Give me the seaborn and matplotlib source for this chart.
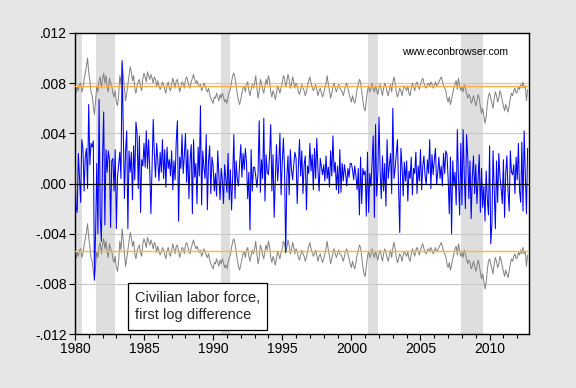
import numpy as np
import pandas as pd
import matplotlib
matplotlib.use("Agg")
import matplotlib.pyplot as plt
import seaborn as sns
from matplotlib.ticker import FixedLocator, FuncFormatter

# civilian labor force, first log difference, monthly Jan 1980 - Oct 2012
clf_dlog = [
    0.0013, -0.0018, -0.0023, 0.0024, 0.0005, -0.0015, 0.0035, 0.0028, -0.0006, 0.0021, 0.0028, -0.0004,  # 1980
    0.0063, 0.0015, 0.0032, 0.0029, 0.0034, -0.0077, -0.0038, 0.0016, -0.0040, 0.0067, -0.0027, -0.0046,  # 1981
    0.0020, 0.0057, -0.0033, 0.0027, 0.0009, 0.0026, 0.0019, -0.0035, 0.0018, 0.0020, -0.0006, 0.0027,  # 1982
    -0.0036, 0.0005, 0.0015, 0.0025, 0.0004, 0.0098, 0.0043, -0.0012, 0.0026, 0.0042, -0.0036, 0.0026,  # 1983
    0.0009, 0.0025, -0.0013, 0.0030, 0.0003, 0.0049, 0.0040, -0.0004, 0.0038, -0.0023, 0.0019, 0.0014,  # 1984
    0.0032, 0.0013, 0.0042, 0.0012, 0.0035, 0.0010, -0.0024, 0.0014, 0.0051, 0.0023, 0.0005, 0.0032,  # 1985
    0.0018, 0.0002, 0.0025, 0.0009, 0.0035, 0.0004, 0.0027, -0.0003, 0.0029, 0.0012, 0.0019, 0.0006,  # 1986
    0.0026, -0.0005, 0.0018, 0.0003, 0.0034, 0.0050, -0.0030, 0.0021, 0.0012, 0.0039, 0.0008, 0.0022,  # 1987
    0.0040, 0.0001, 0.0027, -0.0012, 0.0019, 0.0031, -0.0024, 0.0035, 0.0005, 0.0016, -0.0016, 0.0029,  # 1988
    0.0006, 0.0062, -0.0017, 0.0026, 0.0013, 0.0004, 0.0039, -0.0021, 0.0018, 0.0030, -0.0008, 0.0021,  # 1989
    0.0014, -0.0006, 0.0008, -0.0010, 0.0026, 0.0007, -0.0013, 0.0012, 0.0003, -0.0016, 0.0015, 0.0004,  # 1990
    -0.0007, 0.0024, -0.0013, 0.0011, -0.0021, 0.0006, 0.0039, -0.0012, 0.0018, 0.0003, -0.0002, 0.0016,  # 1991
    0.0031, 0.0005, 0.0024, 0.0011, 0.0028, 0.0016, -0.0012, 0.0009, -0.0037, 0.0027, -0.0006, 0.0013,  # 1992
    0.0013, 0.0006, -0.0003, 0.0008, 0.0050, -0.0007, 0.0019, 0.0004, 0.0052, -0.0014, 0.0023, 0.0009,  # 1993
    0.0007, 0.0022, 0.0047, -0.0006, 0.0023, -0.0027, 0.0004, 0.0031, 0.0002, 0.0016, 0.0040, -0.0009,  # 1994
    0.0017, 0.0036, 0.0011, -0.0055, 0.0005, 0.0022, -0.0009, 0.0027, 0.0011, 0.0003, 0.0015, 0.0025,  # 1995
    0.0020, -0.0016, 0.0014, 0.0035, 0.0006, 0.0026, -0.0008, 0.0015, 0.0022, -0.0021, 0.0014, 0.0008,  # 1996
    0.0032, 0.0010, 0.0023, -0.0005, 0.0028, 0.0004, 0.0036, 0.0011, -0.0006, 0.0020, 0.0013, 0.0007,  # 1997
    0.0015, 0.0002, 0.0022, 0.0004, 0.0013, -0.0003, 0.0026, 0.0006, 0.0038, 0.0009, 0.0017, -0.0005,  # 1998
    0.0014, -0.0008, 0.0027, -0.0007, 0.0016, 0.0002, 0.0015, 0.0008, -0.0002, 0.0012, 0.0005, 0.0016,  # 1999
    0.0016, 0.0011, 0.0003, 0.0014, 0.0006, -0.0005, 0.0012, -0.0025, 0.0021, -0.0016, 0.0012, 0.0007,  # 2000
    0.0010, -0.0026, 0.0025, -0.0023, 0.0008, -0.0002, 0.0017, 0.0038, -0.0027, 0.0047, -0.0010, 0.0009,  # 2001
    0.0053, 0.0009, -0.0012, 0.0022, -0.0006, 0.0016, -0.0018, 0.0035, 0.0004, 0.0015, 0.0024, -0.0008,  # 2002
    0.0060, 0.0004, 0.0012, 0.0023, 0.0035, -0.0004, -0.0039, 0.0028, 0.0014, -0.0010, 0.0017, 0.0002,  # 2003
    0.0018, -0.0014, 0.0010, 0.0004, 0.0021, -0.0009, 0.0012, 0.0008, 0.0025, -0.0008, 0.0014, 0.0002,  # 2004
    0.0027, -0.0005, 0.0014, 0.0022, 0.0006, -0.0001, 0.0019, 0.0008, 0.0035, -0.0004, 0.0023, 0.0007,  # 2005
    0.0019, 0.0028, -0.0001, 0.0009, 0.0021, 0.0004, 0.0014, -0.0002, 0.0024, 0.0008, 0.0026, 0.0023,  # 2006
    0.0004, -0.0024, 0.0021, -0.0040, 0.0018, -0.0002, 0.0009, -0.0017, 0.0043, 0.0003, -0.0025, 0.0032,  # 2007
    -0.0017, 0.0043, 0.0007, -0.0020, 0.0039, 0.0022, -0.0012, 0.0018, -0.0028, 0.0006, 0.0022, -0.0008,  # 2008
    0.0015, -0.0016, 0.0003, 0.0023, -0.0023, 0.0012, -0.0019, -0.0002, -0.0030, 0.0010, -0.0012, -0.0025,  # 2009
    0.0030, -0.0048, -0.0032, 0.0026, -0.0005, -0.0036, 0.0018, -0.0015, 0.0024, 0.0006, -0.0004, -0.0016,  # 2010
    0.0019, -0.0027, 0.0008, 0.0022, -0.0006, -0.0022, 0.0026, 0.0009, 0.0007, 0.0015, -0.0008, 0.0021,  # 2011
    0.0003, 0.0032, -0.0006, -0.0015, 0.0033, -0.0022, 0.0042, 0.0007, -0.0024, 0.0028,  # 2012
]

# upper gray band (lower band sits a constant width below it)
upper_band = [
    0.0078, 0.0072, 0.0077, 0.0074, 0.0079, 0.0080, 0.0073, 0.0076, 0.0083, 0.0088, 0.0093, 0.0100,  # 1980
    0.0089, 0.0082, 0.0073, 0.0070, 0.0062, 0.0055, 0.0066, 0.0078, 0.0073, 0.0082, 0.0085, 0.0076,  # 1981
    0.0083, 0.0088, 0.0080, 0.0086, 0.0077, 0.0073, 0.0084, 0.0080, 0.0078, 0.0072, 0.0069, 0.0074,  # 1982
    0.0065, 0.0062, 0.0070, 0.0086, 0.0079, 0.0096, 0.0087, 0.0076, 0.0066, 0.0072, 0.0079, 0.0086,  # 1983
    0.0093, 0.0089, 0.0082, 0.0086, 0.0076, 0.0072, 0.0078, 0.0081, 0.0083, 0.0077, 0.0074, 0.0084,  # 1984
    0.0088, 0.0085, 0.0081, 0.0089, 0.0086, 0.0083, 0.0087, 0.0084, 0.0080, 0.0085, 0.0083, 0.0077,  # 1985
    0.0082, 0.0078, 0.0075, 0.0077, 0.0081, 0.0079, 0.0075, 0.0072, 0.0078, 0.0081, 0.0076, 0.0074,  # 1986
    0.0079, 0.0084, 0.0080, 0.0076, 0.0082, 0.0083, 0.0078, 0.0073, 0.0077, 0.0081, 0.0080, 0.0076,  # 1987
    0.0083, 0.0085, 0.0082, 0.0078, 0.0076, 0.0081, 0.0084, 0.0087, 0.0083, 0.0080, 0.0082, 0.0079,  # 1988
    0.0077, 0.0079, 0.0074, 0.0076, 0.0080, 0.0078, 0.0075, 0.0073, 0.0076, 0.0071, 0.0068, 0.0066,  # 1989
    0.0064, 0.0069, 0.0068, 0.0072, 0.0069, 0.0066, 0.0071, 0.0068, 0.0072, 0.0069, 0.0065, 0.0067,  # 1990
    0.0064, 0.0069, 0.0073, 0.0075, 0.0081, 0.0086, 0.0088, 0.0084, 0.0078, 0.0071, 0.0066, 0.0063,  # 1991
    0.0067, 0.0072, 0.0076, 0.0078, 0.0073, 0.0079, 0.0081, 0.0074, 0.0070, 0.0075, 0.0079, 0.0076,  # 1992
    0.0080, 0.0086, 0.0076, 0.0068, 0.0073, 0.0083, 0.0080, 0.0075, 0.0072, 0.0078, 0.0083, 0.0079,  # 1993
    0.0086, 0.0082, 0.0073, 0.0069, 0.0074, 0.0071, 0.0067, 0.0072, 0.0078, 0.0075, 0.0072, 0.0077,  # 1994
    0.0080, 0.0086, 0.0084, 0.0077, 0.0081, 0.0087, 0.0083, 0.0076, 0.0079, 0.0085, 0.0081, 0.0076,  # 1995
    0.0080, 0.0078, 0.0073, 0.0071, 0.0075, 0.0079, 0.0076, 0.0074, 0.0070, 0.0073, 0.0078, 0.0082,  # 1996
    0.0085, 0.0080, 0.0077, 0.0074, 0.0076, 0.0079, 0.0075, 0.0070, 0.0074, 0.0076, 0.0072, 0.0069,  # 1997
    0.0072, 0.0076, 0.0080, 0.0086, 0.0079, 0.0074, 0.0068, 0.0072, 0.0077, 0.0080, 0.0076, 0.0073,  # 1998
    0.0076, 0.0079, 0.0076, 0.0075, 0.0073, 0.0070, 0.0074, 0.0078, 0.0080, 0.0076, 0.0072, 0.0068,  # 1999
    0.0065, 0.0070, 0.0066, 0.0064, 0.0069, 0.0075, 0.0079, 0.0083, 0.0081, 0.0073, 0.0066, 0.0060,  # 2000
    0.0058, 0.0066, 0.0074, 0.0078, 0.0073, 0.0075, 0.0080, 0.0076, 0.0073, 0.0078, 0.0074, 0.0071,  # 2001
    0.0076, 0.0079, 0.0074, 0.0070, 0.0076, 0.0080, 0.0077, 0.0073, 0.0070, 0.0075, 0.0079, 0.0073,  # 2002
    0.0081, 0.0085, 0.0080, 0.0073, 0.0069, 0.0072, 0.0076, 0.0074, 0.0070, 0.0075, 0.0078, 0.0076,  # 2003
    0.0074, 0.0078, 0.0072, 0.0070, 0.0076, 0.0080, 0.0077, 0.0074, 0.0079, 0.0081, 0.0078, 0.0075,  # 2004
    0.0079, 0.0082, 0.0084, 0.0080, 0.0077, 0.0076, 0.0079, 0.0080, 0.0078, 0.0081, 0.0079, 0.0076,  # 2005
    0.0078, 0.0081, 0.0078, 0.0079, 0.0081, 0.0083, 0.0085, 0.0082, 0.0078, 0.0076, 0.0074, 0.0068,  # 2006
    0.0065, 0.0069, 0.0063, 0.0067, 0.0072, 0.0076, 0.0080, 0.0082, 0.0075, 0.0084, 0.0078, 0.0074,  # 2007
    0.0077, 0.0073, 0.0079, 0.0076, 0.0072, 0.0068, 0.0071, 0.0069, 0.0064, 0.0066, 0.0070, 0.0066,  # 2008
    0.0062, 0.0066, 0.0071, 0.0068, 0.0061, 0.0056, 0.0060, 0.0054, 0.0048, 0.0053, 0.0063, 0.0070,  # 2009
    0.0072, 0.0068, 0.0064, 0.0060, 0.0068, 0.0073, 0.0070, 0.0065, 0.0068, 0.0074, 0.0071, 0.0066,  # 2010
    0.0062, 0.0058, 0.0063, 0.0060, 0.0057, 0.0062, 0.0068, 0.0072, 0.0070, 0.0074, 0.0076, 0.0072,  # 2011
    0.0073, 0.0077, 0.0075, 0.0079, 0.0076, 0.0081, 0.0076, 0.0078, 0.0066, 0.0075,  # 2012
]
band_width = 0.0132

ref_upper = 0.0078
ref_lower = -0.0054

rec_start = [1980.0, 1981.5, 1990.58, 2001.17, 2007.92]
rec_end = [1980.5, 1982.92, 1991.25, 2001.92, 2009.5]

dates = pd.date_range("1980-01-01", periods=len(clf_dlog), freq="MS")
df = pd.DataFrame({
    "t": dates.year + (dates.month - 1) / 12.0,
    "dlog": clf_dlog,
    "upper": upper_band,
})
df["lower"] = df["upper"] - band_width

sns.set_style("white")
plt.rcParams["font.family"] = ["Liberation Sans", "DejaVu Sans"]

fig = plt.figure(figsize=(5.76, 3.88), dpi=100, facecolor="#e6e6e6")
ax = fig.add_axes([0.130, 0.139, 0.788, 0.776])
ax.set_facecolor("white")

for s, e in zip(rec_start, rec_end):
    ax.axvspan(s, e, color="#dedede", lw=0, zorder=0)

for v in [-0.008, -0.004, 0.004, 0.008]:
    ax.axhline(v, color="#c8c8c8", lw=0.8, zorder=1)

sns.lineplot(data=df, x="t", y="upper", color="#808080", lw=0.7, ax=ax, zorder=2)
sns.lineplot(data=df, x="t", y="lower", color="#808080", lw=0.7, ax=ax, zorder=2)
ax.axhline(ref_upper, color="#ffb340", lw=1.0, zorder=3)
ax.axhline(ref_lower, color="#ffb340", lw=1.0, zorder=3)
sns.lineplot(data=df, x="t", y="dlog", color="#0000ff", lw=0.75, ax=ax, zorder=4)
ax.axhline(0, color="black", lw=0.9, zorder=5)

ax.set_xlim(1980.0, 1980 + len(clf_dlog) / 12.0)
ax.set_ylim(-0.012, 0.012)
ax.set_xlabel("")
ax.set_ylabel("")

ax.xaxis.set_major_locator(FixedLocator([1980, 1985, 1990, 1995, 2000, 2005, 2010]))
ax.xaxis.set_minor_locator(FixedLocator(list(range(1980, 2013))))
ax.yaxis.set_major_locator(FixedLocator([-0.012, -0.008, -0.004, 0.0, 0.004, 0.008, 0.012]))


def yfmt(v, pos):
    s = "%.3f" % v
    return s.replace("0.", ".")


ax.yaxis.set_major_formatter(FuncFormatter(yfmt))
ax.tick_params(axis="both", which="major", labelsize=10, length=4, width=0.8,
               color="black", labelcolor="black", direction="out", pad=2)
ax.tick_params(axis="x", which="minor", length=3, width=0.8, color="black", direction="out")
ax.tick_params(axis="y", which="both", left=True)
ax.tick_params(axis="x", which="both", bottom=True)

for sp in ax.spines.values():
    sp.set_visible(True)
    sp.set_color("black")
    sp.set_linewidth(1.0)

ax.text(0.955, 0.955, "www.econbrowser.com", transform=ax.transAxes,
        ha="right", va="top", fontsize=7.5, color="black")
ax.text(1984.35, -0.0098, "Civilian labor force,\nfirst log difference",
        ha="left", va="center", fontsize=10.5, linespacing=1.35, zorder=6,
        bbox=dict(boxstyle="square,pad=0.5", facecolor="white", edgecolor="black", lw=0.9))

fig.savefig("out.png", dpi=100, facecolor=fig.get_facecolor())
